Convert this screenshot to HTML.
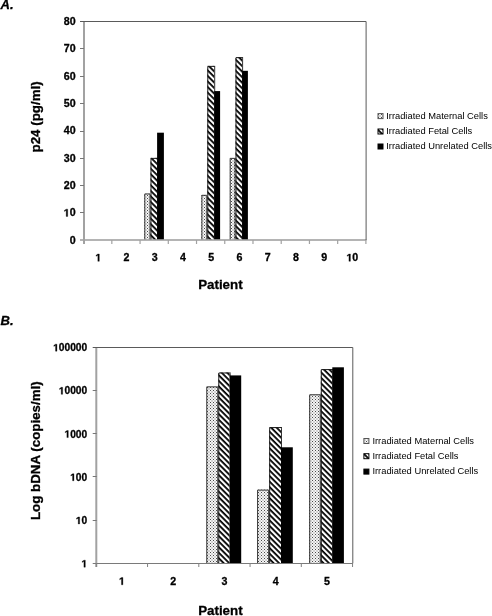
<!DOCTYPE html><html><head><meta charset="utf-8"><style>html,body{margin:0;padding:0;background:#fff;width:492px;height:616px;overflow:hidden}svg{display:block;will-change:transform}text{font-family:"Liberation Sans", sans-serif}text[font-weight=bold]{stroke:#000;stroke-width:0.3px}</style></head><body>
<svg width="492" height="616" viewBox="0 0 492 616">
<defs>
<pattern id="dots" patternUnits="userSpaceOnUse" width="3" height="3"><rect width="3" height="3" fill="#f6f6f6"/><rect x="1" y="1" width="2" height="2" fill="#d4d4d4"/><rect x="0" y="0" width="1" height="1" fill="#4a4a4a"/></pattern>
<pattern id="hatch" patternUnits="userSpaceOnUse" width="3.92" height="3.92" patternTransform="rotate(45)"><rect width="3.92" height="3.92" fill="#fff"/><rect width="3.92" height="1.8" fill="#000"/></pattern>
</defs>
<rect width="492" height="616" fill="#fff"/>
<rect x="144.30" y="193.46" width="6.20" height="46.54" fill="url(#dots)"/>
<path d="M144.80 240.00V193.96H150.00V240.00" fill="none" stroke="#333" stroke-width="1"/>
<rect x="150.50" y="157.88" width="6.60" height="82.12" fill="url(#hatch)"/>
<path d="M151.00 240.00V158.38H158.10" fill="none" stroke="#1a1a1a" stroke-width="1"/>
<path d="M157.60 158.88V240.00" fill="none" stroke="#333" stroke-width="1"/>
<rect x="157.10" y="132.69" width="6.80" height="107.31" fill="#000"/>
<rect x="201.40" y="194.83" width="5.90" height="45.17" fill="url(#dots)"/>
<path d="M201.90 240.00V195.33H206.80V240.00" fill="none" stroke="#333" stroke-width="1"/>
<rect x="207.30" y="65.89" width="6.90" height="174.11" fill="url(#hatch)"/>
<path d="M207.80 240.00V66.39H215.20" fill="none" stroke="#1a1a1a" stroke-width="1"/>
<path d="M214.70 66.89V240.00" fill="none" stroke="#333" stroke-width="1"/>
<rect x="214.20" y="91.08" width="5.90" height="148.92" fill="#000"/>
<rect x="229.70" y="157.88" width="5.80" height="82.12" fill="url(#dots)"/>
<path d="M230.20 240.00V158.38H235.00V240.00" fill="none" stroke="#333" stroke-width="1"/>
<rect x="235.50" y="57.14" width="6.60" height="182.86" fill="url(#hatch)"/>
<path d="M236.00 240.00V57.64H243.10" fill="none" stroke="#1a1a1a" stroke-width="1"/>
<path d="M242.60 58.14V240.00" fill="none" stroke="#333" stroke-width="1"/>
<rect x="242.10" y="70.82" width="5.80" height="169.18" fill="#000"/>
<rect x="83.0" y="21.0" width="2" height="223.0" fill="#a2a2a2"/>
<rect x="80.0" y="239.2" width="286.4" height="1.6" fill="#a2a2a2"/>
<path d="M80.0 21.5H366.1V240.0" fill="none" stroke="#5a5a5a" stroke-width="1"/>
<rect x="80.0" y="212" width="4" height="1" fill="#777777"/>
<rect x="80.0" y="185" width="4" height="1" fill="#777777"/>
<rect x="80.0" y="158" width="4" height="1" fill="#777777"/>
<rect x="80.0" y="131" width="4" height="1" fill="#777777"/>
<rect x="80.0" y="103" width="4" height="1" fill="#777777"/>
<rect x="80.0" y="76" width="4" height="1" fill="#777777"/>
<rect x="80.0" y="48" width="4" height="1" fill="#777777"/>
<rect x="83.00" y="240.0" width="1.2" height="4" fill="#a2a2a2"/>
<rect x="111.23" y="240.0" width="1.2" height="4" fill="#a2a2a2"/>
<rect x="139.46" y="240.0" width="1.2" height="4" fill="#a2a2a2"/>
<rect x="167.69" y="240.0" width="1.2" height="4" fill="#a2a2a2"/>
<rect x="195.92" y="240.0" width="1.2" height="4" fill="#a2a2a2"/>
<rect x="224.15" y="240.0" width="1.2" height="4" fill="#a2a2a2"/>
<rect x="252.38" y="240.0" width="1.2" height="4" fill="#a2a2a2"/>
<rect x="280.61" y="240.0" width="1.2" height="4" fill="#a2a2a2"/>
<rect x="308.84" y="240.0" width="1.2" height="4" fill="#a2a2a2"/>
<rect x="337.07" y="240.0" width="1.2" height="4" fill="#a2a2a2"/>
<rect x="365.30" y="240.0" width="1.2" height="4" fill="#a2a2a2"/>
<text x="75.60" y="243.84" font-size="10.67" font-weight="bold" text-anchor="end">0</text>
<text x="75.60" y="216.47" font-size="10.67" font-weight="bold" text-anchor="end">&#8199;0</text>
<path d="M66.22 216.47 L66.22 210.37 L64.46 211.47 L64.46 210.32 L66.30 209.13 L67.69 209.13 L67.69 216.47Z" fill="#000" stroke="#000" stroke-width="0.3" stroke-linejoin="round"/>
<text x="75.60" y="189.09" font-size="10.67" font-weight="bold" text-anchor="end">20</text>
<text x="75.60" y="161.72" font-size="10.67" font-weight="bold" text-anchor="end">30</text>
<text x="75.60" y="134.34" font-size="10.67" font-weight="bold" text-anchor="end">40</text>
<text x="75.60" y="106.97" font-size="10.67" font-weight="bold" text-anchor="end">50</text>
<text x="75.60" y="79.59" font-size="10.67" font-weight="bold" text-anchor="end">60</text>
<text x="75.60" y="52.22" font-size="10.67" font-weight="bold" text-anchor="end">70</text>
<text x="75.60" y="24.84" font-size="10.67" font-weight="bold" text-anchor="end">80</text>
<text x="98.31" y="261.30" font-size="10.67" font-weight="bold" text-anchor="middle">&#8199;</text>
<path d="M97.84 261.30 L97.84 255.20 L96.08 256.30 L96.08 255.15 L97.92 253.96 L99.30 253.96 L99.30 261.30Z" fill="#000" stroke="#000" stroke-width="0.3" stroke-linejoin="round"/>
<text x="126.54" y="261.30" font-size="10.67" font-weight="bold" text-anchor="middle">2</text>
<text x="154.77" y="261.30" font-size="10.67" font-weight="bold" text-anchor="middle">3</text>
<text x="183.00" y="261.30" font-size="10.67" font-weight="bold" text-anchor="middle">4</text>
<text x="211.23" y="261.30" font-size="10.67" font-weight="bold" text-anchor="middle">5</text>
<text x="239.46" y="261.30" font-size="10.67" font-weight="bold" text-anchor="middle">6</text>
<text x="267.69" y="261.30" font-size="10.67" font-weight="bold" text-anchor="middle">7</text>
<text x="295.92" y="261.30" font-size="10.67" font-weight="bold" text-anchor="middle">8</text>
<text x="324.15" y="261.30" font-size="10.67" font-weight="bold" text-anchor="middle">9</text>
<text x="352.38" y="261.30" font-size="10.67" font-weight="bold" text-anchor="middle">&#8199;0</text>
<path d="M348.94 261.30 L348.94 255.20 L347.18 256.30 L347.18 255.15 L349.02 253.96 L350.41 253.96 L350.41 261.30Z" fill="#000" stroke="#000" stroke-width="0.3" stroke-linejoin="round"/>
<rect x="206.30" y="386.39" width="12.00" height="176.61" fill="url(#dots)"/>
<path d="M206.80 563.00V386.89H217.80V563.00" fill="none" stroke="#333" stroke-width="1"/>
<rect x="218.30" y="372.49" width="11.40" height="190.51" fill="url(#hatch)"/>
<path d="M218.80 563.00V372.99H230.70" fill="none" stroke="#1a1a1a" stroke-width="1"/>
<path d="M230.20 373.49V563.00" fill="none" stroke="#333" stroke-width="1"/>
<rect x="229.70" y="375.41" width="11.50" height="187.59" fill="#000"/>
<rect x="257.10" y="489.60" width="12.10" height="73.40" fill="url(#dots)"/>
<path d="M257.60 563.00V490.10H268.70V563.00" fill="none" stroke="#333" stroke-width="1"/>
<rect x="269.20" y="427.09" width="11.80" height="135.91" fill="url(#hatch)"/>
<path d="M269.70 563.00V427.59H282.00" fill="none" stroke="#1a1a1a" stroke-width="1"/>
<path d="M281.50 428.09V563.00" fill="none" stroke="#333" stroke-width="1"/>
<rect x="281.00" y="447.29" width="11.80" height="115.71" fill="#000"/>
<rect x="309.20" y="394.29" width="11.60" height="168.71" fill="url(#dots)"/>
<path d="M309.70 563.00V394.79H320.30V563.00" fill="none" stroke="#333" stroke-width="1"/>
<rect x="320.80" y="369.09" width="11.50" height="193.91" fill="url(#hatch)"/>
<path d="M321.30 563.00V369.59H333.30" fill="none" stroke="#1a1a1a" stroke-width="1"/>
<path d="M332.80 370.09V563.00" fill="none" stroke="#333" stroke-width="1"/>
<rect x="332.30" y="367.30" width="11.60" height="195.70" fill="#000"/>
<rect x="95.3" y="347.0" width="2" height="220.0" fill="#a2a2a2"/>
<rect x="92.7" y="563.0" width="260.4" height="1.0" fill="#7a7a7a"/>
<path d="M92.7 347.5H352.8V563.0" fill="none" stroke="#5a5a5a" stroke-width="1"/>
<rect x="92.7" y="520" width="4" height="1" fill="#777777"/>
<rect x="92.7" y="476" width="4" height="1" fill="#777777"/>
<rect x="92.7" y="433" width="4" height="1" fill="#777777"/>
<rect x="92.7" y="390" width="4" height="1" fill="#777777"/>
<rect x="95.80" y="563.0" width="1.0" height="4" fill="#808080"/>
<rect x="147.05" y="563.0" width="1.0" height="4" fill="#808080"/>
<rect x="198.30" y="563.0" width="1.0" height="4" fill="#808080"/>
<rect x="249.55" y="563.0" width="1.0" height="4" fill="#808080"/>
<rect x="300.80" y="563.0" width="1.0" height="4" fill="#808080"/>
<rect x="352.05" y="563.0" width="1.0" height="4" fill="#808080"/>
<text x="87.20" y="567.17" font-size="10.20" font-weight="bold" text-anchor="end">&#8199;</text>
<path d="M83.91 567.17 L83.91 561.34 L82.22 562.40 L82.22 561.30 L83.98 560.15 L85.31 560.15 L85.31 567.17Z" fill="#000" stroke="#000" stroke-width="0.3" stroke-linejoin="round"/>
<text x="87.20" y="523.97" font-size="10.20" font-weight="bold" text-anchor="end">&#8199;0</text>
<path d="M78.24 523.97 L78.24 518.14 L76.55 519.20 L76.55 518.10 L78.31 516.95 L79.63 516.95 L79.63 523.97Z" fill="#000" stroke="#000" stroke-width="0.3" stroke-linejoin="round"/>
<text x="87.20" y="480.77" font-size="10.20" font-weight="bold" text-anchor="end">&#8199;00</text>
<path d="M72.56 480.77 L72.56 474.94 L70.88 476.00 L70.88 474.90 L72.64 473.75 L73.96 473.75 L73.96 480.77Z" fill="#000" stroke="#000" stroke-width="0.3" stroke-linejoin="round"/>
<text x="87.20" y="437.57" font-size="10.20" font-weight="bold" text-anchor="end">&#8199;000</text>
<path d="M66.89 437.57 L66.89 431.74 L65.21 432.80 L65.21 431.70 L66.96 430.55 L68.29 430.55 L68.29 437.57Z" fill="#000" stroke="#000" stroke-width="0.3" stroke-linejoin="round"/>
<text x="87.20" y="394.37" font-size="10.20" font-weight="bold" text-anchor="end">&#8199;0000</text>
<path d="M61.22 394.37 L61.22 388.54 L59.53 389.60 L59.53 388.50 L61.29 387.35 L62.62 387.35 L62.62 394.37Z" fill="#000" stroke="#000" stroke-width="0.3" stroke-linejoin="round"/>
<text x="87.20" y="351.17" font-size="10.20" font-weight="bold" text-anchor="end">&#8199;00000</text>
<path d="M55.54 351.17 L55.54 345.34 L53.86 346.40 L53.86 345.30 L55.62 344.15 L56.94 344.15 L56.94 351.17Z" fill="#000" stroke="#000" stroke-width="0.3" stroke-linejoin="round"/>
<text x="121.92" y="584.80" font-size="10.67" font-weight="bold" text-anchor="middle">&#8199;</text>
<path d="M121.45 584.80 L121.45 578.70 L119.69 579.80 L119.69 578.65 L121.53 577.46 L122.91 577.46 L122.91 584.80Z" fill="#000" stroke="#000" stroke-width="0.3" stroke-linejoin="round"/>
<text x="173.18" y="584.80" font-size="10.67" font-weight="bold" text-anchor="middle">2</text>
<text x="224.43" y="584.80" font-size="10.67" font-weight="bold" text-anchor="middle">3</text>
<text x="275.68" y="584.80" font-size="10.67" font-weight="bold" text-anchor="middle">4</text>
<text x="326.93" y="584.80" font-size="10.67" font-weight="bold" text-anchor="middle">5</text>
<text x="0.6" y="9.1" font-size="13" font-weight="bold" font-style="italic">A.</text>
<text x="0.6" y="325" font-size="13" font-weight="bold" font-style="italic">B.</text>
<text x="220.4" y="288.9" font-size="13.33" font-weight="bold" text-anchor="middle">Patient</text>
<text x="220.4" y="615" font-size="13.33" font-weight="bold" text-anchor="middle">Patient</text>
<text transform="translate(39.9,116.9) rotate(-90)" font-size="13.33" font-weight="bold" text-anchor="middle">p24 (pg/ml)</text>
<text transform="translate(39.8,450.7) rotate(-90)" font-size="13.33" font-weight="bold" text-anchor="middle">Log bDNA (copies/ml)</text>
<rect x="378.0" y="113.6" width="5" height="5" fill="url(#dots)" stroke="#555" stroke-width="1"/>
<text x="386.2" y="118.96" font-size="9.33">Irradiated Maternal Cells</text>
<rect x="378.0" y="129.0" width="5" height="5" fill="url(#hatch)" stroke="#000" stroke-width="1"/>
<text x="386.2" y="134.36" font-size="9.33">Irradiated Fetal Cells</text>
<rect x="378.0" y="144.0" width="5" height="5" fill="#000" stroke="#000" stroke-width="1"/>
<text x="386.2" y="149.36" font-size="9.33">Irradiated Unrelated Cells</text>
<rect x="363.9" y="438.5" width="5" height="5" fill="url(#dots)" stroke="#555" stroke-width="1"/>
<text x="372.4" y="443.86" font-size="9.33">Irradiated Maternal Cells</text>
<rect x="363.9" y="453.7" width="5" height="5" fill="url(#hatch)" stroke="#000" stroke-width="1"/>
<text x="372.4" y="459.06" font-size="9.33">Irradiated Fetal Cells</text>
<rect x="363.9" y="469.1" width="5" height="5" fill="#000" stroke="#000" stroke-width="1"/>
<text x="372.4" y="474.46" font-size="9.33">Irradiated Unrelated Cells</text>
</svg></body></html>
